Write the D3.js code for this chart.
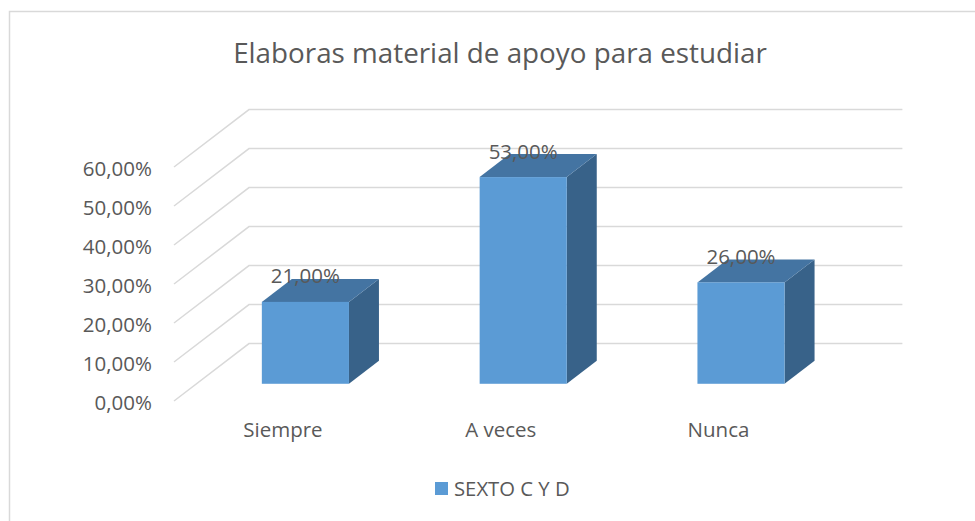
<!DOCTYPE html>
<html>
<head>
<meta charset="utf-8">
<script src="https://cdn.jsdelivr.net/npm/d3@7"></script>
<style>
  body { margin: 0; background: #fff; }
  text { font-family: "Open Sans", sans-serif; fill: #595959; }
</style>
</head>
<body>
<div id="grafico"></div>
<script>
ancho = 975;
alto = 521;

categorias = ["Siempre", "A veces", "Nunca"];
valores = [21, 53, 26];
ticksY = [0, 10, 20, 30, 40, 50, 60];
serie = "SEXTO C Y D";
titulo = "Elaboras material de apoyo para estudiar";

// profundidad 3D
prof_x = 75;
prof_y = -57.4;
z0 = 0.3;
z1 = 0.7;

var svg = d3.select("#grafico")
    .append("svg")
    .attr("width", ancho)
    .attr("height", alto);

// borde del area del grafico
svg.append("rect")
    .attr("x", 9.5)
    .attr("y", 11.5)
    .attr("width", ancho)
    .attr("height", alto)
    .attr("fill", "#fff")
    .attr("stroke", "#d9d9d9")
    .attr("stroke-width", 1.5);

svg.append("text")
    .attr("x", 500)
    .attr("y", 63)
    .attr("text-anchor", "middle")
    .attr("font-size", "27.8px")
    .text(titulo);

var escalaX = d3.scaleBand()
    .domain(categorias)
    .range([174, 827.4])
    .paddingInner(0.6)
    .paddingOuter(0.3);

var escalaY = d3.scaleLinear()
    .domain([0, 60])
    .range([401, 167]);

var x0 = escalaX.range()[0];
var x1 = escalaX.range()[1];

// lineas de la cuadricula (pared lateral + pared del fondo)
svg.selectAll("polyline.grid")
    .data(ticksY)
    .enter()
    .append("polyline")
    .attr("class", "grid")
    .attr("points", function (d) {
        var yy = escalaY(d);
        return [[x0, yy], [x0 + prof_x, yy + prof_y], [x1 + prof_x, yy + prof_y]].join(" ");
    })
    .attr("fill", "none")
    .attr("stroke", "#d9d9d9")
    .attr("stroke-width", 1.5);

// eje Y
var ejeY = svg.append("g")
    .attr("transform", "translate(" + x0 + ",0)")
    .call(d3.axisLeft(escalaY)
        .tickValues(ticksY)
        .tickSize(0)
        .tickPadding(22)
        .tickFormat(function (d) { return d.toFixed(2).replace(".", ",") + "%"; }));
ejeY.select(".domain").remove();
ejeY.selectAll("text")
    .attr("font-size", "20.5px")
    .attr("font-family", "Open Sans")
    .attr("fill", "#595959")
    .attr("dy", "0.4em");

// eje X
var ejeX = svg.append("g")
    .attr("transform", "translate(0," + escalaY(0) + ")")
    .call(d3.axisBottom(escalaX).tickSize(0).tickPadding(21));
ejeX.select(".domain").remove();
ejeX.selectAll("text")
    .attr("font-size", "20.5px")
    .attr("font-family", "Open Sans")
    .attr("fill", "#595959");

var bw = escalaX.bandwidth();
var dxz = function (z) { return prof_x * z; };
var dyz = function (z) { return prof_y * z; };

var barras = svg.selectAll("g.barra")
    .data(valores)
    .enter()
    .append("g")
    .attr("class", "barra");

// lado
barras.append("polygon")
    .attr("points", function (d, i) {
        var xr = escalaX(categorias[i]) + bw;
        var yt = escalaY(d), yb = escalaY(0);
        return [[xr + dxz(z0), yt + dyz(z0)], [xr + dxz(z1), yt + dyz(z1)],
                [xr + dxz(z1), yb + dyz(z1)], [xr + dxz(z0), yb + dyz(z0)]].join(" ");
    })
    .attr("fill", "#386289");

// tapa
barras.append("polygon")
    .attr("points", function (d, i) {
        var xl = escalaX(categorias[i]);
        var xr = xl + bw;
        var yt = escalaY(d);
        return [[xl + dxz(z0), yt + dyz(z0)], [xr + dxz(z0), yt + dyz(z0)],
                [xr + dxz(z1), yt + dyz(z1)], [xl + dxz(z1), yt + dyz(z1)]].join(" ");
    })
    .attr("fill", "#4474a2");

// frente
barras.append("rect")
    .attr("x", function (d, i) { return escalaX(categorias[i]) + dxz(z0); })
    .attr("y", function (d) { return escalaY(d) + dyz(z0); })
    .attr("width", bw)
    .attr("height", function (d) { return escalaY(0) - escalaY(d); })
    .attr("fill", "#5b9bd5");

// etiquetas de datos
barras.append("text")
    .attr("x", function (d, i) { return escalaX(categorias[i]) + dxz(z0) + bw / 2; })
    .attr("y", function (d) { return escalaY(d) + dyz(z0) - 18.5; })
    .attr("text-anchor", "middle")
    .attr("font-size", "20.5px")
    .text(function (d) { return d.toFixed(2).replace(".", ",") + "%"; });

// leyenda
var leyenda = svg.append("g")
    .attr("transform", "translate(435,482)");
leyenda.append("rect")
    .attr("width", 13)
    .attr("height", 13)
    .attr("fill", "#5b9bd5");
leyenda.append("text")
    .attr("x", 19)
    .attr("y", 14)
    .attr("font-size", "20.3px")
    .text(serie);
</script>
</body>
</html>
